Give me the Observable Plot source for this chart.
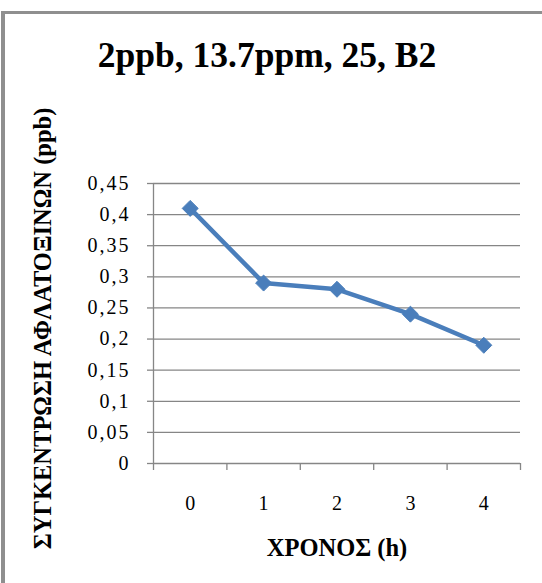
<!DOCTYPE html>
<html>
<head>
<meta charset="utf-8">
<script src="https://cdn.jsdelivr.net/npm/d3@7"></script>
<script src="https://cdn.jsdelivr.net/npm/@observablehq/plot@0.6"></script>
<style>
  body { margin: 0; background: #fff; }
  #chart { position: relative; width: 542px; height: 583px; overflow: hidden; background: #fff; }
  #chart svg { position: absolute; left: 0; top: 0; }
  #chart svg text { font-family: "Liberation Serif", "Times New Roman", serif; }
  #chart svg g[aria-label="y-axis tick label"] text { letter-spacing: 2px; }
  #frame {
    position: absolute; left: 1px; top: 11px; right: -4px; bottom: -4px;
    border-left: 4px solid #8f8f8f; border-top: 3px solid #8f8f8f;
    pointer-events: none;
  }
</style>
</head>
<body>
<div id="chart"><div id="frame"></div></div>
<script>
// Aflatoxin concentration over time
const times = [0, 1, 2, 3, 4];
const concentration = [0.41, 0.29, 0.28, 0.24, 0.19];
const yTicks = [0, 0.05, 0.1, 0.15, 0.2, 0.25, 0.3, 0.35, 0.4, 0.45];
const categoryEdges = [-0.5, 0.5, 1.5, 2.5, 3.5, 4.5];
const title = "2ppb, 13.7ppm, 25, B2";
const yLabel = "ΣΥΓΚΕΝΤΡΩΣΗ ΑΦΛΑΤΟΞΙΝΩΝ (ppb)";
const xLabel = "ΧΡΟΝΟΣ (h)";

const data = times.map((t, i) => ({t, v: concentration[i]}));
const comma = d => String(d).replace(".", ",");
const axisColor = "#868686";

const chart = Plot.plot({
  width: 542,
  height: 583,
  marginLeft: 153,
  marginRight: 22,
  marginTop: 183,
  marginBottom: 120,
  style: "font-size: 20px; color: #000; background: transparent;",
  x: {domain: [-0.5, 4.5]},
  y: {domain: [0, 0.45]},
  marks: [
    Plot.gridY(yTicks, {stroke: axisColor, strokeOpacity: 1, strokeWidth: 1.3}),
    Plot.ruleX([-0.5], {stroke: axisColor, strokeWidth: 1.3}),
    Plot.axisY({ticks: yTicks, tickFormat: comma, tickSize: 6, tickPadding: 17,
      stroke: axisColor, strokeWidth: 1.3, label: null, fontSize: 20}),
    Plot.axisX({ticks: categoryEdges, tickFormat: () => "", tickSize: 7,
      stroke: axisColor, strokeWidth: 1.3, label: null}),
    Plot.axisX({ticks: times, tickFormat: d => String(d), tickSize: 0, tickPadding: 32,
      label: null, fontSize: 20}),
    Plot.line(data, {x: "t", y: "v", stroke: "#4a7ebb", strokeWidth: 4.5}),
    Plot.dot(data, {x: "t", y: "v", symbol: "diamond2", r: 7.2, fill: "#4a7ebb", stroke: "#4a7ebb", strokeWidth: 1}),
    Plot.text([title], {frameAnchor: "top", dx: -70, dy: -128, fontSize: 35.5, fontWeight: "bold",
      lineAnchor: "middle"}),
    Plot.text([yLabel], {frameAnchor: "left", dx: -110, dy: 5, rotate: -90, textAnchor: "middle",
      fontSize: 24.5, fontWeight: "bold", lineAnchor: "middle"}),
    Plot.text([xLabel], {frameAnchor: "bottom", dy: 85, fontSize: 24.5, fontWeight: "bold",
      lineAnchor: "middle"})
  ]
});
document.getElementById("chart").appendChild(chart);
</script>
</body>
</html>
